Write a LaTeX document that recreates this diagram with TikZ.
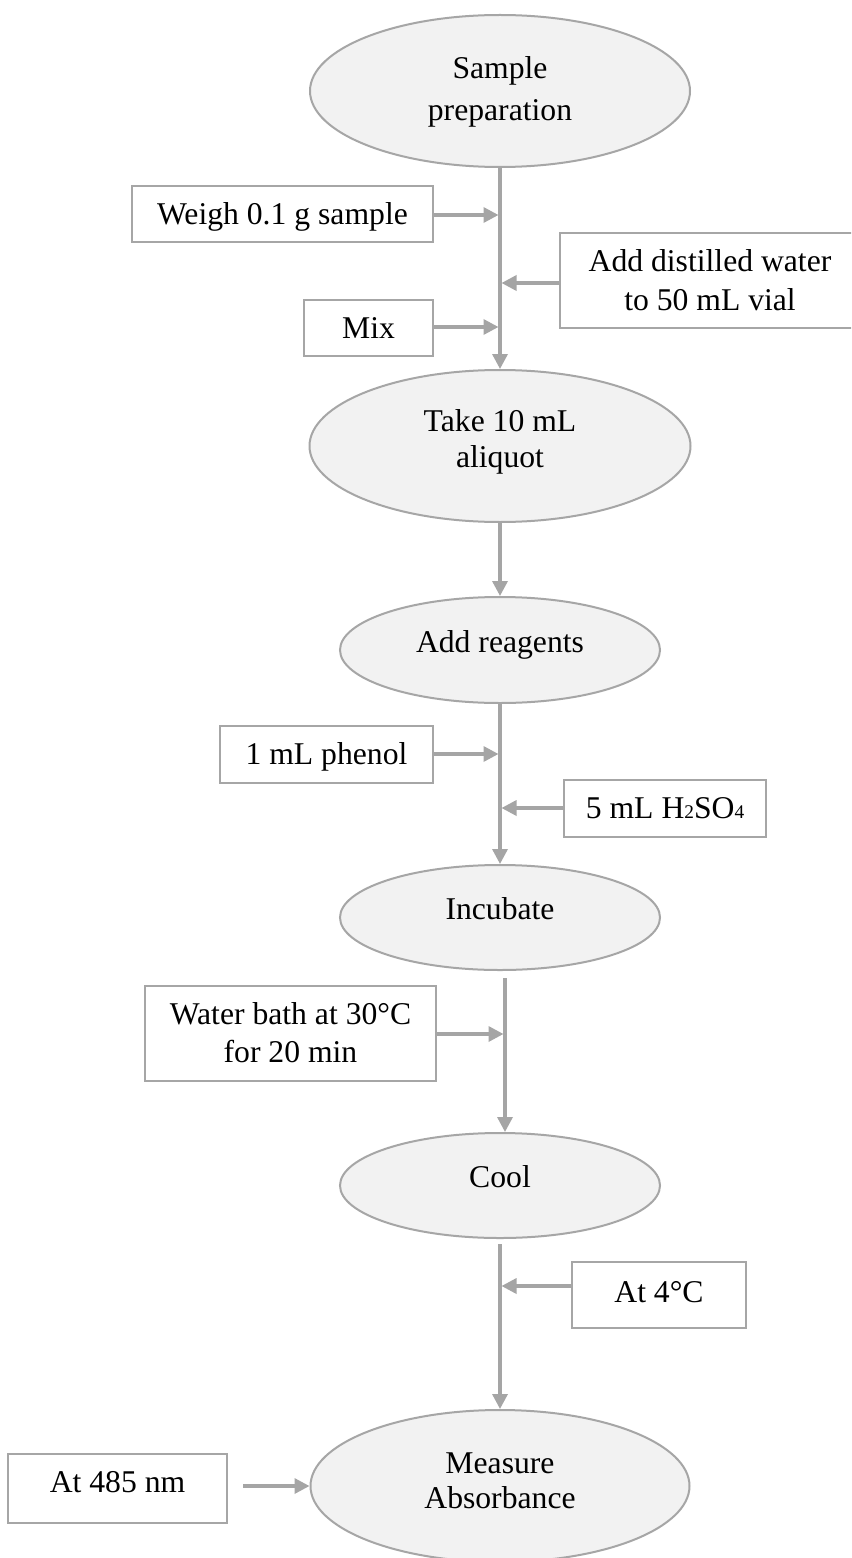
\documentclass[tikz,border=0pt]{standalone}
\usepackage{fontspec}
\setmainfont{Liberation Serif}
\usetikzlibrary{shapes.geometric,arrows.meta}
\definecolor{flowgray}{HTML}{A5A5A5}
\definecolor{rimgray}{HTML}{A6A6A6}
\definecolor{stagefill}{HTML}{F2F2F2}
\newcommand{\subdigit}[1]{{\fontsize{14.5pt}{14.5pt}\selectfont #1}}
\begin{document}
\begin{tikzpicture}[x=0.75pt,y=-0.75pt,
  every node/.style={font=\fontsize{23.75pt}{27.75pt}\selectfont, inner sep=0pt, align=center},
  stage/.style={ellipse, draw=rimgray, line width=1.5pt, fill=stagefill, text height=15.5pt, text depth=12pt},
  note/.style={rectangle, draw=rimgray, line width=1.5pt, fill=white, text height=15.5pt, text depth=0pt},
  flow/.style={draw=flowgray, line width=2.5pt, -{Triangle[length=11.25pt,width=11.25pt]}}]

% page frame
\path[use as bounding box] (0,0) rectangle (851,1558);
\clip (0,0) rectangle (851,1558);
\fill[white] (0,0) rectangle (851,1558);

% main stages (two-line texts: the box baseline is the last line)
\node[stage, minimum width=285pt, minimum height=114pt, text height=47pt, text depth=3pt,
      font=\fontsize{23.75pt}{31.5pt}\selectfont] (prep) at (500,91) {Sample\\preparation};
\node[stage, minimum width=285.75pt, minimum height=114pt, text height=42.5pt, text depth=10.5pt,
      font=\fontsize{23.75pt}{27pt}\selectfont] (aliq) at (500,446) {Take 10 mL\\aliquot};
\node[stage, minimum width=240pt, minimum height=79.5pt] (reag) at (500,650) {Add reagents};
\node[stage, minimum width=240pt, minimum height=78.75pt] (incu) at (500,917.5) {Incubate};
\node[stage, minimum width=240pt, minimum height=78.75pt] (cool) at (500,1185.5) {Cool};
\node[stage, minimum width=284.25pt, minimum height=114pt, text height=41.75pt, text depth=8.25pt,
      font=\fontsize{23.75pt}{26.25pt}\selectfont] (meas) at (500,1486) {Measure\\Absorbance};

% side conditions
\node[note, minimum width=225.75pt, minimum height=42pt] (weigh) at (282.5,214) {Weigh 0.1 g sample};
\node[note, minimum width=225pt, minimum height=71.25pt, text height=44.75pt, text depth=0pt,
      font=\fontsize{23.75pt}{29.25pt}\selectfont] (water) at (710,280.5) {Add distilled water\\to 50 mL vial};
\node[note, minimum width=96.75pt, minimum height=42pt] (mix) at (368.5,328) {Mix};
\node[note, minimum width=159.75pt, minimum height=42.75pt] (phen) at (326.5,754.5) {1 mL phenol};
\node[note, minimum width=151.5pt, minimum height=42.75pt] (acid) at (665,808.5) {5 mL H\subdigit{2}SO\subdigit{4}};
\node[note, minimum width=218.25pt, minimum height=71.25pt, text height=44pt, text depth=0pt,
      font=\fontsize{23.75pt}{28.5pt}\selectfont] (bath) at (290.5,1033.5) {Water bath at 30°C\\for 20 min};
\node[note, minimum width=130.5pt, minimum height=49.5pt, text depth=4.5pt] (cold) at (659,1295) {At 4°C};
\node[note, minimum width=164.25pt, minimum height=51.75pt, text depth=9pt] (wave) at (117.5,1488.5) {At 485 nm};

% points where side arrows meet the main line
\coordinate (jweigh) at (498.5,215);
\coordinate (jwater) at (501.5,283);
\coordinate (jmix)   at (498.5,327);
\coordinate (jphen)  at (498.5,754);
\coordinate (jacid)  at (501.5,808);
\coordinate (jbath)  at (503.5,1034);
\coordinate (jcold)  at (501.5,1286);

% main line
\draw[flow] (prep.south) -- (aliq.north);
\draw[flow] (aliq.south) -- (reag.north);
\draw[flow] (reag.south) -- (incu.north);
\draw[flow] ([xshift=3.75pt,yshift=-5.25pt]incu.south) -- ([xshift=3.75pt]cool.north);
\draw[flow] ([yshift=-3.75pt]cool.south) -- (meas.north);

% side arrows
\draw[flow] (weigh.east |- jweigh) -- (jweigh);
\draw[flow] (water.west |- jwater) -- (jwater);
\draw[flow] (mix.east |- jmix) -- (jmix);
\draw[flow] (phen.east |- jphen) -- (jphen);
\draw[flow] (acid.west |- jacid) -- (jacid);
\draw[flow] (bath.east |- jbath) -- (jbath);
\draw[flow] (cold.west |- jcold) -- (jcold);
\draw[flow] ([xshift=11.25pt]wave.east |- meas.west) -- (meas.west);
\end{tikzpicture}
\end{document}
